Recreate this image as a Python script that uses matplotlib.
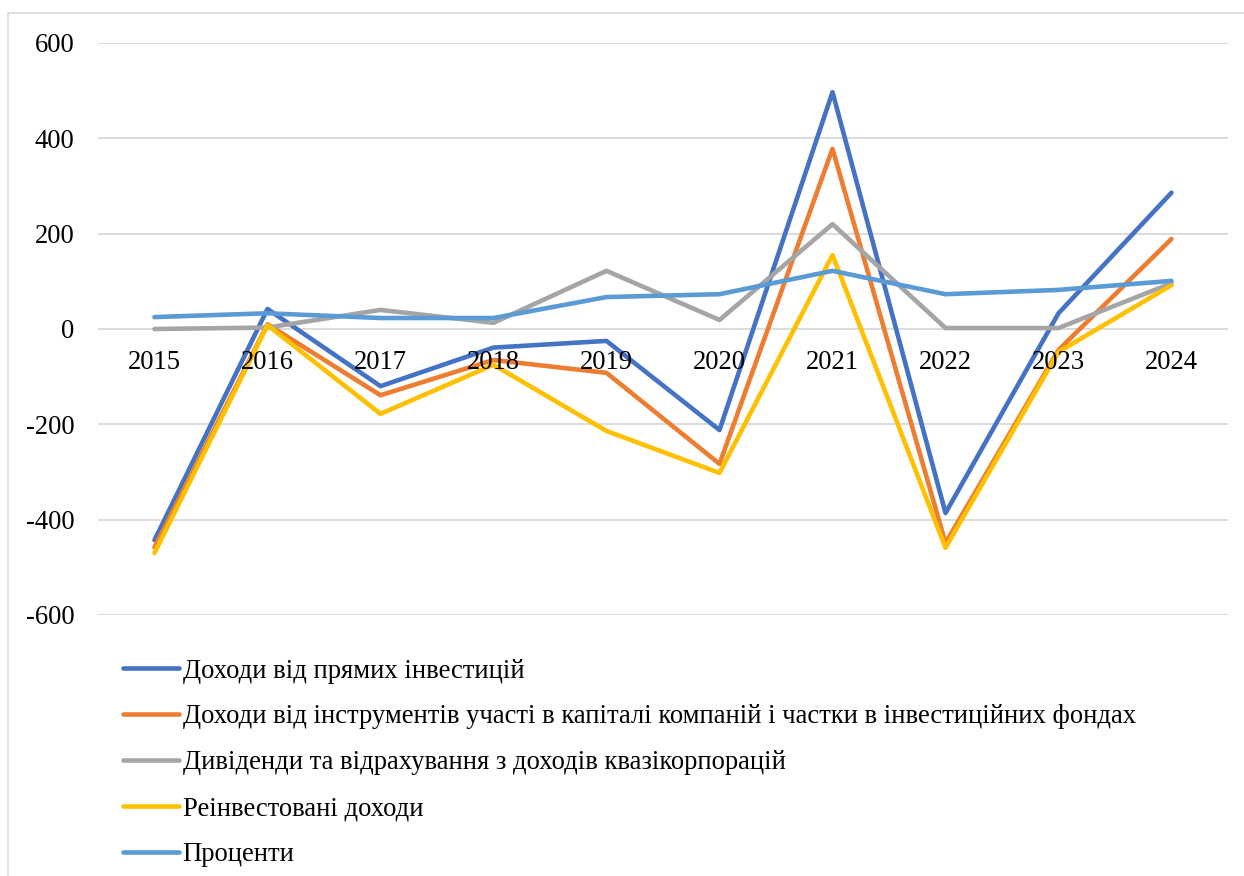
import matplotlib.pyplot as plt
from matplotlib.patches import Rectangle

years = ['2015', '2016', '2017', '2018', '2019', '2020', '2021', '2022', '2023', '2024']

direct_income = [-443, 42, -120, -39, -25, -212, 497, -386, 33, 286]
equity_income = [-458, 10, -139, -65, -92, -283, 378, -449, -44, 189]
dividends = [0, 3, 40, 13, 122, 19, 220, 2, 2, 96]
reinvested = [-470, 8, -178, -75, -214, -302, 155, -459, -48, 92]
interest = [25, 33, 23, 23, 67, 73, 122, 73, 82, 101]

labels = [
    'Доходи від прямих інвестицій',
    'Доходи від інструментів участі в капіталі компаній і частки в інвестиційних фондах',
    'Дивіденди та відрахування з доходів квазікорпорацій',
    'Реінвестовані доходи',
    'Проценти',
]
colors = ['#4472C4', '#ED7D31', '#A5A5A5', '#FFC000', '#5B9BD5']
yticks = [-600, -400, -200, 0, 200, 400, 600]

plt.rcParams['font.family'] = ['Liberation Serif', 'DejaVu Serif']

fig = plt.figure(figsize=(12.44, 8.76), dpi=100)
fig.patches.append(Rectangle((8 / 1244, -0.1), 1.2, 1 - 13 / 876 + 0.1,
                             transform=fig.transFigure, fill=False,
                             edgecolor='#D9D9D9', linewidth=1.2))

ax = fig.add_axes([98 / 1244, 1 - 615 / 876, 1130 / 1244, 572 / 876])
x = list(range(len(years)))
series = [direct_income, equity_income, dividends, reinvested, interest]
for vals, col, lab in zip(series, colors, labels):
    ax.plot(x, vals, color=col, linewidth=3.3, label=lab,
            solid_capstyle='round', solid_joinstyle='round')

ax.set_xlim(-0.5, len(years) - 0.5)
ax.set_ylim(-600, 600)
ax.set_yticks(yticks)
ax.set_yticklabels([str(v) for v in yticks], fontsize=19.2)
ax.yaxis.grid(True, color='#D9D9D9', linewidth=1.3)
ax.set_axisbelow(True)
ax.tick_params(axis='y', length=0, pad=17)

# category labels sit just under the zero line
ax.set_xticks([])
for i, yr in enumerate(years):
    ax.text(i, -70, yr, ha='center', va='center', fontsize=19.2)

for s in ax.spines.values():
    s.set_visible(False)

fig.legend(loc='upper left', bbox_to_anchor=(112 / 1244, 1 - 648 / 876),
           frameon=False, fontsize=19.2, handlelength=2.1, handletextpad=0.15,
           labelspacing=0.78, borderaxespad=0)

fig.savefig('out.png', dpi=100)
